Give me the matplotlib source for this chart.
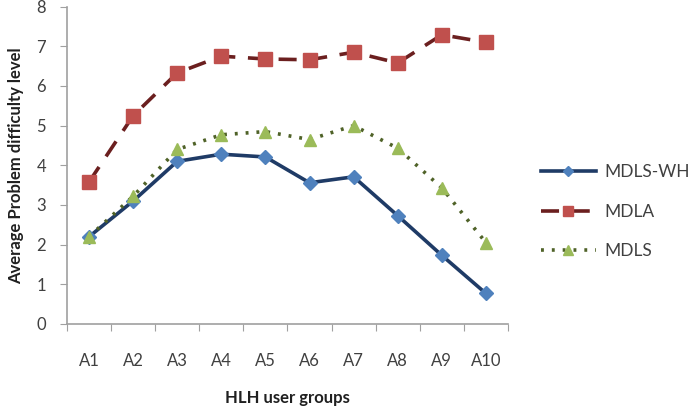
import matplotlib
matplotlib.use("Agg")
import matplotlib.pyplot as plt
import numpy as np

categories = ["A1", "A2", "A3", "A4", "A5", "A6", "A7", "A8", "A9", "A10"]
mdls_wh = [2.2, 3.1, 4.1, 4.28, 4.21, 3.56, 3.71, 2.73, 1.73, 0.77]
mdla = [3.58, 5.25, 6.33, 6.75, 6.68, 6.66, 6.85, 6.58, 7.29, 7.1]
mdls = [2.2, 3.22, 4.4, 4.77, 4.85, 4.65, 5.0, 4.43, 3.43, 2.05]
yticks = [0, 1, 2, 3, 4, 5, 6, 7, 8]

plt.rcParams['font.family'] = ['Lato', 'DejaVu Sans']

fig = plt.figure(figsize=(7.0, 4.13), dpi=100)
ax = fig.add_axes([0.0957, 0.2155, 0.630, 0.7685])

x = np.arange(len(categories)) + 0.5

ax.plot(x, mdls_wh, color="#1F3B66", lw=2.6, marker="D", ms=7,
        markerfacecolor="#4F81BD", markeredgecolor="#4F81BD", label="MDLS-WH", zorder=3)
ax.plot(x, mdla, color="#6B1F1F", lw=2.6, ls=(0, (5, 3.5)), marker="s", ms=10,
        markerfacecolor="#C0504D", markeredgecolor="#C0504D", label="MDLA", zorder=3)
ax.plot(x, mdls, color="#4F6228", lw=2.6, ls=(0, (0.8, 2.2)), marker="^", ms=9,
        markerfacecolor="#9BBB59", markeredgecolor="#9BBB59", label="MDLS", zorder=3)

ax.set_xlim(0, len(categories))
ax.set_ylim(0, 8)
ax.set_yticks(yticks)
ax.set_yticklabels([str(t) for t in yticks])

ax.set_xticks(np.arange(len(categories) + 1))
ax.set_xticklabels([])
ax.set_xticks(x, minor=True)
ax.set_xticklabels(categories, minor=True)
ax.tick_params(axis="x", which="minor", length=0, pad=21, labelsize=12, colors="#404040")
ax.tick_params(axis="x", which="major", length=5, color="#A0A0A0", direction="out")
ax.tick_params(axis="y", length=5, color="#A0A0A0", direction="out", pad=10,
               labelsize=12, labelcolor="#404040")

for s in ["top", "right"]:
    ax.spines[s].set_visible(False)
for s in ["left", "bottom"]:
    ax.spines[s].set_color("#A0A0A0")
    ax.spines[s].set_linewidth(1.2)

ax.set_xlabel("HLH user groups", fontsize=12, fontweight="bold", labelpad=15, color="#202020")
ax.set_ylabel("Average Problem difficulty level", fontsize=12, fontweight="bold",
              labelpad=9, color="#202020")

leg = fig.legend(handles=ax.get_lines(), loc="center left",
                 bbox_to_anchor=(0.760, 0.487), bbox_transform=fig.transFigure,
                 frameon=False, fontsize=12.5, labelspacing=1.35, handlelength=3.2,
                 handletextpad=0.45, markerscale=0.75, borderpad=0)
for t in leg.get_texts():
    t.set_color("#404040")

fig.savefig("out.png", dpi=100)
